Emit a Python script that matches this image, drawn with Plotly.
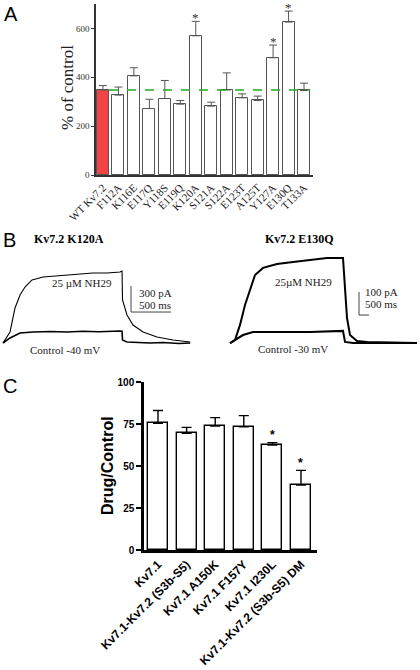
import plotly.graph_objects as go

W, H = 420, 670
SERIF = "Liberation Serif, Times New Roman, serif"
SANS = "Liberation Sans, Arial, sans-serif"

# ---------------- Panel A data ----------------
a_labels = ["WT Kv7.2", "F112A", "K116E", "E117Q", "Y118S", "E119Q", "K120A",
            "S121A", "S122A", "E123T", "A125T", "Y127A", "E130Q", "T133A"]
a_values = [348, 327, 406, 272, 313, 290, 570, 282, 348, 316, 305, 480, 626, 346]
a_err_top = [366, 360, 439, 310, 387, 305, 629, 298, 418, 332, 323, 532, 671, 376]
a_star = ["", "", "", "", "", "", "*", "", "", "", "", "*", "*", ""]

# ---------------- Panel B data (time in ms, current in pA) ----------------
b1_nh29_t = [0, 88, 150, 213, 275, 363, 500, 650, 800, 963, 1125, 1300, 1463, 1488,
             1494, 1550, 1625, 1750, 1925, 2125, 2340]
b1_nh29_i = [0, 127, 403, 552, 644, 725, 759, 770, 782, 794, 805, 805, 817, 828,
             495, 322, 207, 127, 69, 35, 12]
b1_ctrl_t = [0, 88, 213, 375, 600, 800, 1000, 1200, 1463, 1488, 1494, 1550, 1838, 2000, 2200, 2340]
b1_ctrl_i = [0, 58, 115, 127, 132, 127, 135, 130, 138, 135, 35, 12, 0, 6, -6, 0]

b2_nh29_t = [0, 250, 500, 750, 1000, 1250, 1650, 2350, 3150, 4000, 4850, 5650,
             5750, 5850, 6000, 6350, 6850, 9350]
b2_nh29_i = [4, 17, 83, 170, 235, 300, 331, 348, 357, 365, 374, 374,
             226, 113, 39, 13, 9, 4]
b2_ctrl_t = [0, 250, 650, 1150, 2350, 4000, 5650, 5750, 6150, 9350]
b2_ctrl_i = [4, 17, 39, 52, 52, 52, 57, 9, 4, 4]

b1_bar = {"t": 1600, "i": 356, "dt": 500, "di": 300}
b2_bar = {"t": 6450, "i": 126, "dt": 500, "di": 100}

# ---------------- Panel C data ----------------
c_labels = ["Kv7.1", "Kv7.1-Kv7.2 (S3b-S5)", "Kv7.1 A150K", "Kv7.1 F157Y",
            "Kv7.1 I230L", "Kv7.1-Kv7.2 (S3b-S5) DM"]
c_values = [75.4, 69.4, 73.8, 73.4, 62.5, 38.7]
c_err_top = [83.0, 73.0, 78.8, 80.0, 63.9, 47.4]
c_star = ["", "", "", "", "*", "*"]


def px(x):
    return x / W


def py(y):
    return 1 - y / H


fig = go.Figure()


def note(text, x, y, xref="paper", yref="paper", xanchor="center", yanchor="middle", **kw):
    fig.add_annotation(x=x, y=y, xref=xref, yref=yref, text=text, showarrow=False,
                       xanchor=xanchor, yanchor=yanchor, **kw)


# ---- Panel A bars ----
a_x = list(range(len(a_labels)))
a_colors = ["#f24444"] + ["white"] * (len(a_labels) - 1)
fig.add_trace(go.Bar(
    x=a_x, y=a_values, width=0.78,
    marker=dict(color=a_colors, line=dict(color="#555555", width=1)),
    error_y=dict(type="data", symmetric=False,
                 array=[e - v for e, v in zip(a_err_top, a_values)],
                 arrayminus=[0] * len(a_values),
                 color="#555555", thickness=1, width=4),
    xaxis="x", yaxis="y", showlegend=False))

# dashed reference line at WT level
fig.add_shape(type="line", xref="x", yref="y", x0=0.39, x1=13.39,
              y0=a_values[0], y1=a_values[0],
              line=dict(color="#22aa22", width=1.5, dash="dash"))

for i, s in enumerate(a_star):
    if s:
        note(s, i, a_err_top[i] + 16, "x", "y",
             font=dict(family=SERIF, size=13, color="#333333"))

# ---- Panel B traces ----
fig.add_trace(go.Scatter(x=b1_nh29_t, y=b1_nh29_i, mode="lines",
                         line=dict(color="black", width=1.1), xaxis="x3", yaxis="y3"))
fig.add_trace(go.Scatter(x=b1_ctrl_t, y=b1_ctrl_i, mode="lines",
                         line=dict(color="black", width=1.6), xaxis="x3", yaxis="y3"))
fig.add_trace(go.Scatter(x=b2_nh29_t, y=b2_nh29_i, mode="lines",
                         line=dict(color="black", width=2), xaxis="x4", yaxis="y4"))
fig.add_trace(go.Scatter(x=b2_ctrl_t, y=b2_ctrl_i, mode="lines",
                         line=dict(color="black", width=2), xaxis="x4", yaxis="y4"))

for bar, xa, ya in [(b1_bar, "x3", "y3"), (b2_bar, "x4", "y4")]:
    fig.add_trace(go.Scatter(
        x=[bar["t"], bar["t"], bar["t"] + bar["dt"]],
        y=[bar["i"] + bar["di"], bar["i"], bar["i"]],
        mode="lines", line=dict(color="#444444", width=1), xaxis=xa, yaxis=ya))

TXT = dict(family=SERIF, size=11, color="#222")
note("300 pA", b1_bar["t"] + 70, b1_bar["i"] + 215, "x3", "y3", xanchor="left", font=TXT)
note("500 ms", b1_bar["t"] + 70, b1_bar["i"] + 80, "x3", "y3", xanchor="left", font=TXT)
note("100 pA", b2_bar["t"] + 200, b2_bar["i"] + 100, "x4", "y4", xanchor="left", font=TXT)
note("500 ms", b2_bar["t"] + 200, b2_bar["i"] + 48, "x4", "y4", xanchor="left", font=TXT)

note("25 µM NH29", 987, 690, "x3", "y3", font=TXT)
note("Control -40 mV", 775, -80, "x3", "y3", font=TXT)
note("25µM NH29", 3650, 270, "x4", "y4", font=TXT)
note("Control -30 mV", 3150, -22, "x4", "y4", font=TXT)

note("<b>Kv7.2 K120A</b>", px(32), py(239), xanchor="left",
     font=dict(family=SERIF, size=12, color="black"))
note("<b>Kv7.2 E130Q</b>", px(263), py(239), xanchor="left",
     font=dict(family=SERIF, size=12, color="black"))

# ---- Panel C bars ----
c_x = list(range(len(c_labels)))
fig.add_trace(go.Bar(
    x=c_x, y=c_values, width=0.7,
    marker=dict(color="white", line=dict(color="black", width=1.4)),
    error_y=dict(type="data", symmetric=False,
                 array=[e - v for e, v in zip(c_err_top, c_values)],
                 arrayminus=[0] * len(c_values),
                 color="black", thickness=1.4, width=5),
    xaxis="x2", yaxis="y2", showlegend=False))
for i, s in enumerate(c_star):
    if s:
        note("<b>*</b>", i, c_err_top[i] + 4.5, "x2", "y2",
             font=dict(family=SANS, size=12, color="black"))

# ---- Panel letters and titles ----
for lab, x0, y0 in [("A", 11, 14), ("B", 9, 240), ("C", 10, 386)]:
    note(lab, px(x0), py(y0), font=dict(family=SANS, size=20, color="black"))

note("% of control", px(67), py(88), textangle=-90,
     font=dict(family=SERIF, size=17, color="#222"))
note("<b>Drug/Control</b>", px(107), py(466), textangle=-90,
     font=dict(family=SANS, size=16, color="black"))

fig.update_layout(
    width=W, height=H, margin=dict(l=0, r=0, t=0, b=0, autoexpand=False),
    paper_bgcolor="white", plot_bgcolor="white", showlegend=False, bargap=0,
    xaxis=dict(domain=[px(96), px(313)], range=[-0.45, 13.58], anchor="y", automargin=False,
               tickmode="array", tickvals=a_x, ticktext=a_labels, tickangle=-45,
               tickfont=dict(family=SERIF, size=11, color="#222"),
               showline=True, linecolor="#333", linewidth=2, ticks="",
               showgrid=False, zeroline=False),
    yaxis=dict(domain=[py(175), py(4)], range=[0, 700], anchor="x", automargin=False,
               tickmode="array", tickvals=[0, 200, 400, 600],
               tickfont=dict(family=SERIF, size=9, color="#333"),
               showline=True, linecolor="#333", linewidth=1.5, ticks="outside",
               ticklen=3, tickcolor="#333", showgrid=False, zeroline=False),
    xaxis2=dict(domain=[px(144), px(317)], range=[-0.49, 5.56], anchor="y2", automargin=False,
                tickmode="array", tickvals=c_x, ticktext=["<b>%s</b>" % t for t in c_labels],
                tickangle=-45,
                tickfont=dict(family=SANS, size=12, color="black"),
                showline=True, linecolor="black", linewidth=2.5, ticks="",
                showgrid=False, zeroline=False),
    yaxis2=dict(domain=[py(550), py(382)], range=[0, 100], anchor="x2", automargin=False,
                tickmode="array", tickvals=[0, 25, 50, 75, 100],
                ticktext=["<b>0</b>", "<b>25</b>", "<b>50</b>", "<b>75</b>", "<b>100</b>"],
                tickfont=dict(family=SANS, size=10, color="black"),
                showline=True, linecolor="black", linewidth=2.5, ticks="outside",
                ticklen=5, tickwidth=2, tickcolor="black", showgrid=False, zeroline=False),
    xaxis3=dict(domain=[0, px(200)], range=[-37.5, 2462.5], anchor="y3", visible=False),
    yaxis3=dict(domain=[py(360), py(250)], range=[-195.5, 1069.5], anchor="x3", visible=False),
    xaxis4=dict(domain=[px(210), 1], range=[-1000, 9500], anchor="y4", visible=False),
    yaxis4=dict(domain=[py(360), py(250)], range=[-69.6, 408.9], anchor="x4", visible=False),
)

fig.write_html("out.html", config={"displayModeBar": False},
               post_script="document.body.style.margin='0px';")
